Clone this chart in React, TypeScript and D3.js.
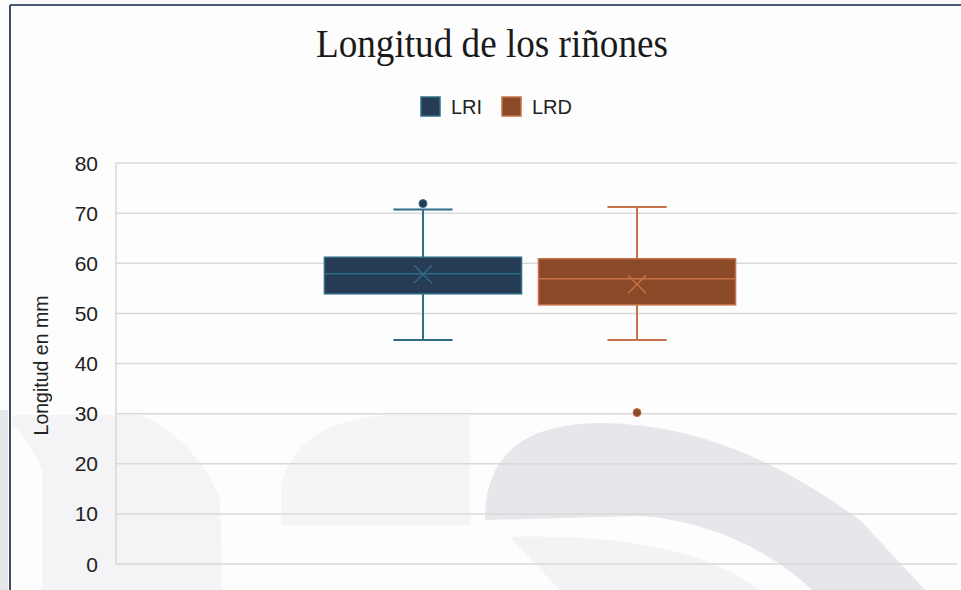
import React from "react";
import * as d3 from "d3";

// Kidney length box plot (left vs right kidney)
const seriesNames = ["LRI", "LRD"];
const categories = ["Longitud"];
const minWhisker = [44.7, 44.7];
const q1Values = [53.9, 51.7];
const medianValues = [57.9, 56.9];
const q3Values = [61.2, 60.9];
const maxWhisker = [70.7, 71.2];
const meanValues = [57.8, 55.8];
const outlierValues = [[71.9], [30.2]];
const yTicks = [0, 10, 20, 30, 40, 50, 60, 70, 80];

const fills = ["#253c54", "#8b4a27"];
const strokes = ["#2f6c88", "#c6714a"];

const W = 961;
const H = 590;
const plot = { left: 116, right: 944, top: 163, bottom: 564 };
const sans = "'Liberation Sans', Arial, sans-serif";

export default function App() {
  const y = d3.scaleLinear().domain([0, 80]).range([plot.bottom, plot.top]);
  const xCat = d3
    .scaleBand<string>()
    .domain(categories)
    .range([plot.left, plot.right])
    .paddingInner(0)
    .paddingOuter(0.507);
  const xSer = d3
    .scaleBand<string>()
    .domain(seriesNames)
    .range([0, xCat.bandwidth()])
    .paddingInner(0.0794);

  const bw = xSer.bandwidth();
  const capW = bw * 0.3;

  return (
    <div style={{ position: "fixed", left: 0, top: 0, width: W, height: H, background: "#fdfdfd" }}>
      <svg width={W} height={H} style={{ display: "block" }}>
        <rect x={0} y={0} width={W} height={H} fill="#fdfdfd" />
        {/* faint background artwork */}
        <g>
          <path d="M0,410 L8,410 L8,590 L0,590 Z" fill="#e6e6eb" />
          <path d="M12,415 L140,415 C175,430 205,460 220,500 L222,590 L42,590 L42,470 C35,450 20,430 12,425 Z" fill="#f4f4f7" />
          <path d="M281,525 L281,485 C292,440 330,418 390,415 L470,415 L470,525 Z" fill="#f5f5f8" />
          <path d="M485,520 C485,462 515,424 600,423 C690,424 770,455 860,520 L925,590 L812,590 C765,545 700,520 640,516 Z" fill="#e6e6eb" />
          <path d="M510,537 C600,534 700,545 760,590 L560,590 Z" fill="#f3f3f6" />
        </g>

        {/* frame */}
        <line x1={10} y1={5} x2={W} y2={5} stroke="#4a5a70" strokeWidth={2} />
        <line x1={10} y1={5} x2={10} y2={H} stroke="#3d4f66" strokeWidth={2} />

        {/* title */}
        <text
          x={492}
          y={57}
          textAnchor="middle"
          fontFamily="'Liberation Serif', 'Times New Roman', serif"
          fontSize={39}
          textLength={352}
          lengthAdjust="spacingAndGlyphs"
          fill="#1a1a1a"
        >
          Longitud de los riñones
        </text>

        {/* legend */}
        {seriesNames.map((s, i) => {
          const lx = [421, 502][i];
          return (
            <g key={s}>
              <rect x={lx} y={97} width={19} height={19} fill={fills[i]} stroke={strokes[i]} strokeWidth={1.5} />
              <text x={lx + 30} y={114} fontFamily={sans} fontSize={20} fill="#222">
                {s}
              </text>
            </g>
          );
        })}

        {/* gridlines */}
        {yTicks.map((t) => (
          <line
            key={t}
            x1={plot.left}
            x2={957}
            y1={y(t)}
            y2={y(t)}
            stroke="#d9d9d9"
            strokeWidth={1.5}
          />
        ))}
        <line x1={plot.left} x2={plot.left} y1={plot.top} y2={plot.bottom} stroke="#d9d9d9" strokeWidth={1.5} />

        {/* y tick labels */}
        {yTicks.map((t) => (
          <text
            key={t}
            x={98}
            y={y(t)}
            dy="0.36em"
            textAnchor="end"
            fontFamily={sans}
            fontSize={21}
            fill="#222"
          >
            {t}
          </text>
        ))}

        {/* y axis title */}
        <text
          transform={`translate(48,${(plot.top + plot.bottom) / 2 + 2}) rotate(-90)`}
          textAnchor="middle"
          fontFamily={sans}
          fontSize={19.5}
          fill="#222"
        >
          Longitud en mm
        </text>

        {/* boxes */}
        {seriesNames.map((s, i) => {
          const x0 = (xCat(categories[0]) ?? 0) + (xSer(s) ?? 0);
          const cx = x0 + bw / 2;
          const xm = 9;
          const ym = y(meanValues[i]);
          return (
            <g key={s}>
              <line x1={cx} x2={cx} y1={y(q3Values[i])} y2={y(maxWhisker[i])} stroke={strokes[i]} strokeWidth={2} />
              <line x1={cx} x2={cx} y1={y(q1Values[i])} y2={y(minWhisker[i])} stroke={strokes[i]} strokeWidth={2} />
              <line x1={cx - capW / 2} x2={cx + capW / 2} y1={y(maxWhisker[i])} y2={y(maxWhisker[i])} stroke={strokes[i]} strokeWidth={2} />
              <line x1={cx - capW / 2} x2={cx + capW / 2} y1={y(minWhisker[i])} y2={y(minWhisker[i])} stroke={strokes[i]} strokeWidth={2} />
              <rect
                x={x0}
                y={y(q3Values[i])}
                width={bw}
                height={y(q1Values[i]) - y(q3Values[i])}
                fill={fills[i]}
                stroke={strokes[i]}
                strokeWidth={1.5}
              />
              <line x1={x0} x2={x0 + bw} y1={y(medianValues[i])} y2={y(medianValues[i])} stroke={strokes[i]} strokeWidth={1.5} />
              <path
                d={`M${cx - xm},${ym - xm}L${cx + xm},${ym + xm}M${cx - xm},${ym + xm}L${cx + xm},${ym - xm}`}
                stroke={strokes[i]}
                strokeWidth={1.5}
                fill="none"
              />
              {outlierValues[i].map((v, k) => (
                <circle key={k} cx={cx} cy={y(v)} r={4} fill={fills[i]} stroke={strokes[i]} strokeWidth={1} />
              ))}
            </g>
          );
        })}
      </svg>
    </div>
  );
}
